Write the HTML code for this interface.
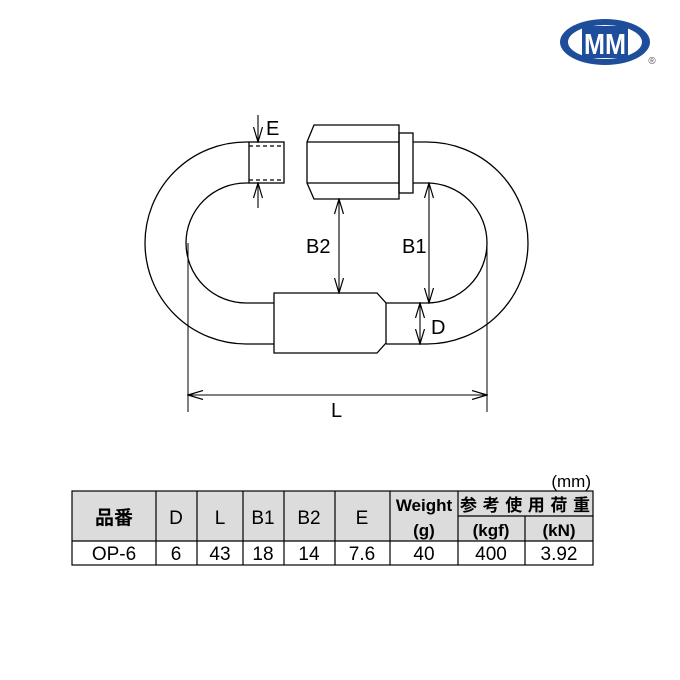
<!DOCTYPE html><html><head><style>body{margin:0;background:#fff}svg{display:block}</style></head><body>
<svg width="680" height="680" viewBox="0 0 680 680" xmlns="http://www.w3.org/2000/svg" font-family="Liberation Sans, Noto Sans CJK JP, sans-serif">
<defs><marker id="a" markerWidth="16" markerHeight="10" refX="15" refY="5" orient="auto-start-reverse" markerUnits="userSpaceOnUse"><path d="M0,0.5 L15,5 L0,9.5" fill="none" stroke="#000" stroke-width="1.2"/></marker></defs>
<g fill="none" stroke="#000" stroke-width="1.3">
<path d="M249,142 L246,142 A101,101 0 0 0 246,344 L274,344"/>
<path d="M413,142 L427,142 A101,101 0 0 1 427,344 L386,344"/>
<path d="M249,183 L246,183 A60,60 0 0 0 246,303 L274,303"/>
<path d="M413,183 L427,183 A60,60 0 0 1 427,303 L386,303"/>
<rect x="249" y="142" width="35" height="41"/>
<line x1="249" y1="146" x2="284" y2="146" stroke-dasharray="4,3"/>
<line x1="249" y1="180" x2="284" y2="180" stroke-dasharray="4,3"/>
<path d="M314,125 L399,125 L399,199 L314,199 L307,183 L307,142 Z"/>
<line x1="307" y1="142" x2="399" y2="142"/><line x1="307" y1="183" x2="399" y2="183"/>
<rect x="399" y="133" width="14" height="60"/>
<path d="M274,293 L377,293 L386,303 L386,343 L377,353 L274,353 Z"/>
<line x1="339" y1="199" x2="339" y2="293" marker-start="url(#a)" marker-end="url(#a)" stroke-width="1.1"/>
<line x1="429" y1="183" x2="429" y2="303" marker-start="url(#a)" marker-end="url(#a)" stroke-width="1.1"/>
<line x1="420" y1="303" x2="420" y2="344" marker-start="url(#a)" marker-end="url(#a)" stroke-width="1.1"/>
<line x1="258" y1="115" x2="258" y2="142" marker-end="url(#a)" stroke-width="1.1"/>
<line x1="258" y1="208" x2="258" y2="183" marker-end="url(#a)" stroke-width="1.1"/>
<line x1="188" y1="243" x2="188" y2="412" stroke-width="1"/>
<line x1="487" y1="243" x2="487" y2="412" stroke-width="1"/>
<line x1="188" y1="395" x2="487" y2="395" marker-start="url(#a)" marker-end="url(#a)" stroke-width="1.1"/>
</g>
<g font-size="20" fill="#000">
<text x="266" y="135">E</text>
<text x="306" y="253">B2</text>
<text x="402" y="253">B1</text>
<text x="431" y="334">D</text>
<text x="331" y="417">L</text>
</g>
<ellipse cx="605" cy="42" rx="45" ry="23" fill="#1e4d9b"/>
<ellipse cx="605" cy="42" rx="37" ry="17" fill="#fff"/>
<rect x="582" y="26" width="46" height="32" fill="#1e4d9b"/>
<text x="605" y="54" font-size="29" font-weight="bold" fill="#fff" text-anchor="middle" textLength="42" lengthAdjust="spacingAndGlyphs">MM</text>
<text x="652" y="64" font-size="10" fill="#555" text-anchor="middle">®</text>
<text x="591" y="487" font-size="17" text-anchor="end">(mm)</text>
<rect x="72" y="491" width="521" height="50" fill="#dcdcdc"/>
<g stroke="#000" stroke-width="1.2" fill="none">
<rect x="72" y="491" width="521" height="74"/>
<line x1="72" y1="541" x2="593" y2="541"/>
<line x1="458" y1="516" x2="593" y2="516"/>
<line x1="156" y1="491" x2="156" y2="565"/><line x1="197" y1="491" x2="197" y2="565"/>
<line x1="243" y1="491" x2="243" y2="565"/><line x1="284" y1="491" x2="284" y2="565"/>
<line x1="335" y1="491" x2="335" y2="565"/><line x1="390" y1="491" x2="390" y2="565"/>
<line x1="458" y1="491" x2="458" y2="565"/><line x1="525" y1="516" x2="525" y2="565"/>
</g>
<g font-size="19" text-anchor="middle" fill="#000">
<text x="114" y="524" font-weight="bold">品番</text>
<text x="176" y="524">D</text><text x="220" y="524">L</text><text x="263" y="524">B1</text>
<text x="309" y="524">B2</text><text x="362" y="524">E</text>
<text x="424" y="511" font-weight="bold" font-size="17">Weight</text>
<text x="424" y="536" font-weight="bold" font-size="17">(g)</text>
<text x="525" y="511" font-weight="bold" font-size="17" textLength="130">参考使用荷重</text>
<text x="491" y="536" font-weight="bold" font-size="17">(kgf)</text>
<text x="559" y="536" font-weight="bold" font-size="17">(kN)</text>
<text x="114" y="560">OP-6</text><text x="176" y="560">6</text><text x="220" y="560">43</text>
<text x="263" y="560">18</text><text x="309" y="560">14</text><text x="362" y="560">7.6</text>
<text x="424" y="560">40</text><text x="491" y="560">400</text><text x="559" y="560">3.92</text>
</g>
</svg>
</body></html>
